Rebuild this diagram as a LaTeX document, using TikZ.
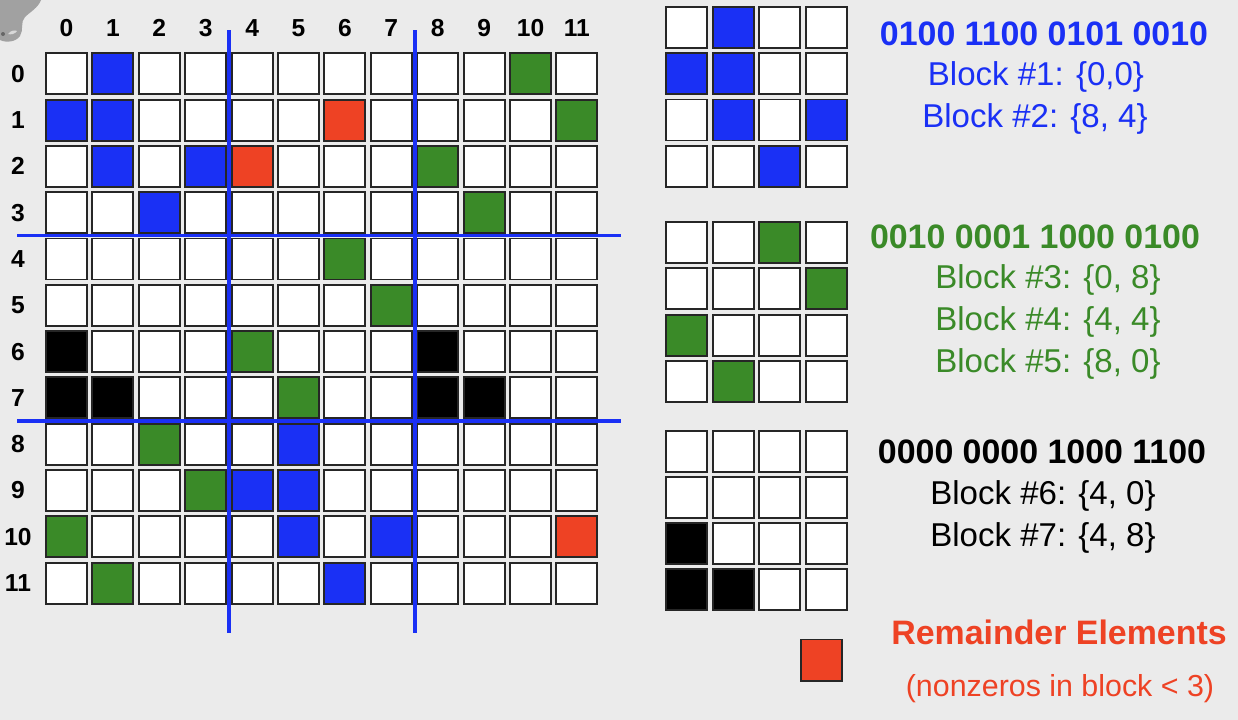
\documentclass[tikz,border=0pt]{standalone}
\usepackage{fontspec}
\setmainfont{Liberation Sans}
\definecolor{nzblue}{RGB}{26,48,245}
\definecolor{nzgreen}{RGB}{58,138,40}
\definecolor{nzred}{RGB}{238,66,36}
\definecolor{bggray}{RGB}{235,235,235}
\tikzset{
  cell/.style={draw=black!85, line width=1.1pt, fill=white},
  cut/.style={draw=nzblue, line width=2.1pt},
  idx/.style={font=\fontsize{14}{16}\selectfont\bfseries, inner sep=0pt},
  bits/.style={font=\fontsize{19.3}{22}\selectfont\bfseries, inner sep=0pt},
  blk/.style={font=\fontsize{18.8}{22}\selectfont, inner sep=0pt}
}
\begin{document}
\begin{tikzpicture}[x=0.02cm, y=-0.02cm]
\useasboundingbox (0,0) rectangle (1238,720);
\fill[bggray] (0,0) rectangle (1238,720);
% scrap of a picture in the corner
\fill[black!37] (0,0) -- (41,0) .. controls (38,8) and (30,12) .. (25,17)
  .. controls (20,22) and (24,30) .. (20,36) .. controls (16,42) and (6,43) .. (0,40) -- cycle;
\fill[white!85!black] (8,34) .. controls (11,30) and (15,30) .. (17,31)
  .. controls (15,34) and (11,35) .. (8,34) -- cycle;
\fill[black!60] (3,34) circle (2);

% 12x12 matrix
\foreach \i in {0,...,11} {
  \node[idx] (col\i) at ({66.5+46.4*\i},28) {\i};
  \node[idx] (row\i) at (18,{73.8+46.3*\i}) {\i};
  \foreach \j in {0,...,11}
    \draw[cell] ({46+46.4*\j},{53.3+46.3*\i}) rectangle +(41,41);
}
\foreach \i/\j/\c in {0/1/nzblue, 0/10/nzgreen,
    1/0/nzblue, 1/1/nzblue, 1/6/nzred, 1/11/nzgreen,
    2/1/nzblue, 2/3/nzblue, 2/4/nzred, 2/8/nzgreen,
    3/2/nzblue, 3/9/nzgreen, 4/6/nzgreen, 5/7/nzgreen,
    6/0/black, 6/4/nzgreen, 6/8/black,
    7/0/black, 7/1/black, 7/5/nzgreen, 7/8/black, 7/9/black,
    8/2/nzgreen, 8/5/nzblue, 9/3/nzgreen, 9/4/nzblue, 9/5/nzblue,
    10/0/nzgreen, 10/5/nzblue, 10/7/nzblue, 10/11/nzred,
    11/1/nzgreen, 11/6/nzblue}
  \draw[cell, fill=\c] ({46+46.4*\j},{53.3+46.3*\i}) rectangle +(41,41);

% block boundaries
\draw[cut] (229,30) -- (229,633);
\draw[cut] (415,30) -- (415,633);
\draw[cut] (17,235.5) -- (621,235.5);
\draw[cut] (17,421) -- (621,421);

% 4x4 bitmaps
\foreach \top/\pitch/\c/\bits in {6.7/46.4/nzblue/{0/1,1/0,1/1,2/1,2/3,3/2},
    221.7/46.5/nzgreen/{0/2,1/3,2/0,3/1},
    431/46/black/{2/0,3/0,3/1}} {
  \foreach \i in {0,...,3}
    \foreach \j in {0,...,3}
      \draw[cell] ({666+46.7*\j},{\top+\pitch*\i}) rectangle +(41,41);
  \foreach \i/\j in \bits
    \draw[cell, fill=\c] ({666+46.7*\j},{\top+\pitch*\i}) rectangle +(41,41);
}

% labels
\node[bits, text=nzblue] (bitsA) at (1044,34) {0100 1100 0101 0010};
\node[blk, text=nzblue] (blk1) at (1036,77) {Block \#1: \{0,0\}};
\node[blk, text=nzblue] (blk2) at (1035,119) {Block \#2: \{8, 4\}};
\node[bits, text=nzgreen] (bitsB) at (1035,237) {0010 0001 1000 0100};
\node[blk, text=nzgreen] (blk3) at (1048,280) {Block \#3: \{0, 8\}};
\node[blk, text=nzgreen] (blk4) at (1048,322) {Block \#4: \{4, 4\}};
\node[blk, text=nzgreen] (blk5) at (1048,364) {Block \#5: \{8, 0\}};
\node[bits] (bitsC) at (1042,452) {0000 0000 1000 1100};
\node[blk] (blk6) at (1043,496) {Block \#6: \{4, 0\}};
\node[blk] (blk7) at (1043,538) {Block \#7: \{4, 8\}};

% remainder
\draw[cell, fill=nzred] (800.7,639.5) rectangle (842,681);
\node[bits, text=nzred] (rem) at (1059,632) {Remainder Elements};
\node[font=\fontsize{17.3}{20}\selectfont, text=nzred, inner sep=0pt] (remnote) at (1060,689) {(nonzeros in block < 3)};
\end{tikzpicture}
\end{document}
